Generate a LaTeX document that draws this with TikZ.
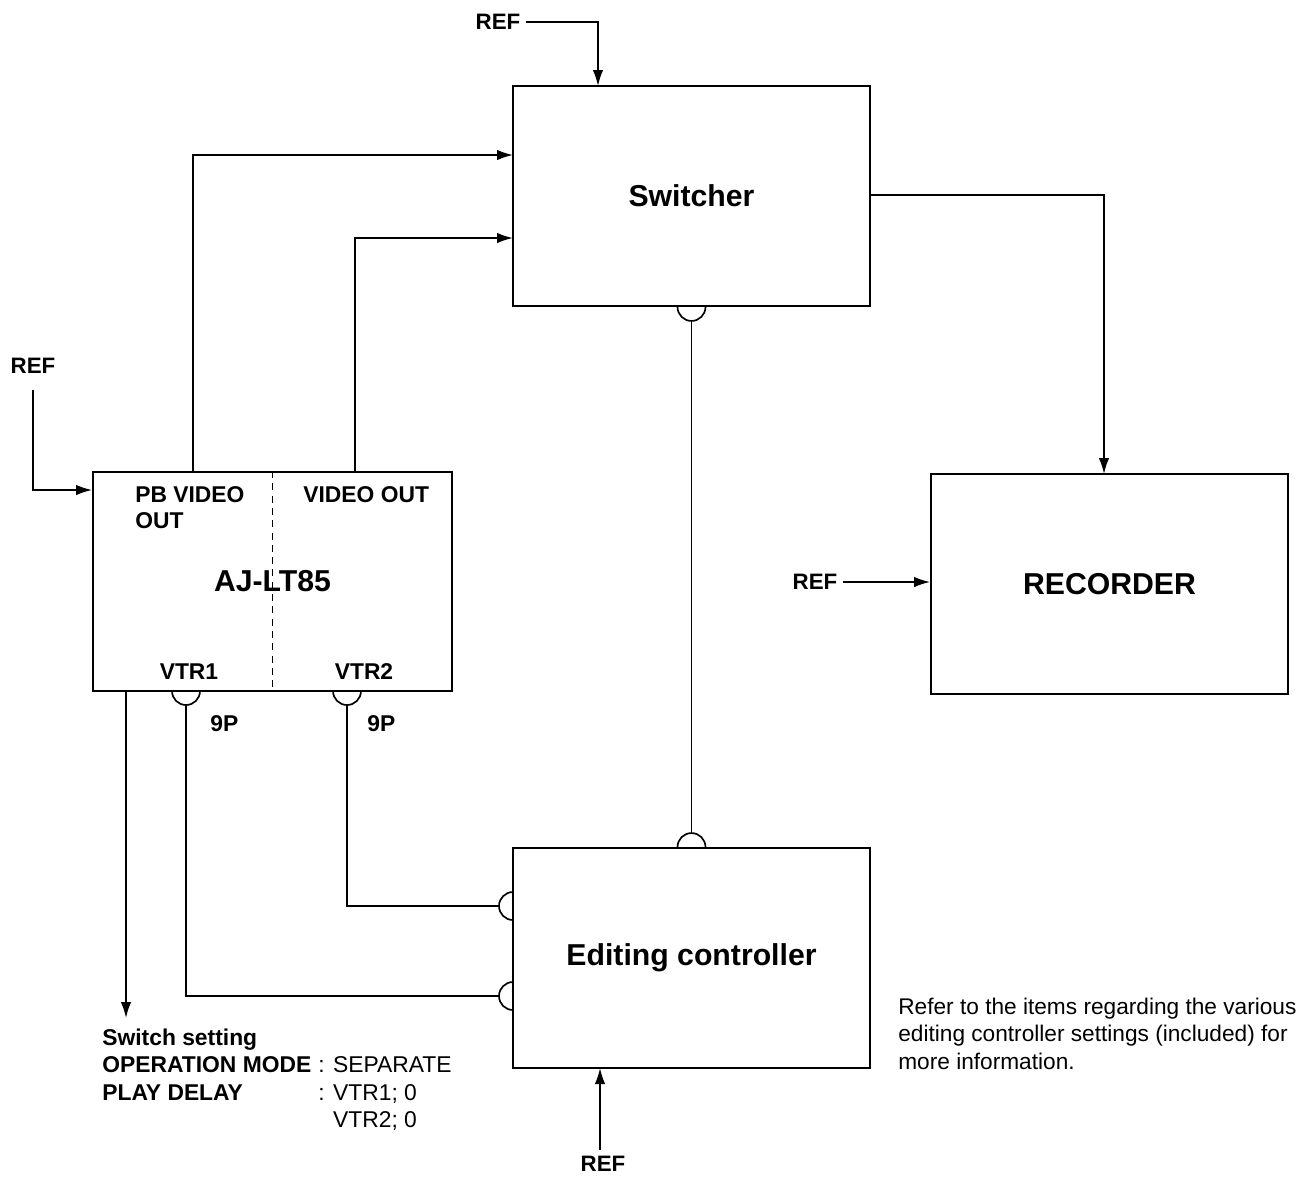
\documentclass[tikz,border=0pt]{standalone}
\usepackage{fontspec}
\setmainfont{Liberation Sans}
\usetikzlibrary{arrows.meta}

\tikzset{
  unit/.style={draw, line width=1.1pt, minimum width=7.14cm, minimum height=4.4cm, inner sep=0pt,
    font=\fontsize{17.2}{20}\selectfont\bfseries},
  lbl/.style={font=\fontsize{13}{14.7}\selectfont\bfseries, inner sep=0pt},
  reflbl/.style={font=\fontsize{12.7}{15}\selectfont\bfseries, inner sep=3pt},
  txt/.style={font=\fontsize{12.9}{15.6}\selectfont, inner sep=0pt},
  wire/.style={line width=0.95pt},
  sig/.style={wire, -{Latex[length=3.2mm,width=2.1mm]}},
}

\begin{document}
\begin{tikzpicture}[x=0.02cm,y=0.02cm]
  \useasboundingbox (0,0) rectangle (1302,-1178);

  % units
  \node[unit] (sw) at (691.5,-196) {Switcher};
  \node[unit] (ec) at (691.5,-958) {Editing controller};
  \node[unit] (rec) at (1109.5,-584) {RECORDER};
  \node[unit, minimum width=7.18cm, minimum height=4.38cm] (aj) at (272.5,-581.5) {AJ-LT85};
  \draw[line width=0.7pt, dash pattern=on 4pt off 3pt] (aj.north) -- (aj.south);

  % labels in the AJ-LT85
  \node[lbl, anchor=north west] (pbout) at (135,-484)
    {\begin{tabular}{@{}l@{}}PB VIDEO\\OUT\end{tabular}};
  \node[lbl, anchor=base west] (vout) at (303,-502) {VIDEO OUT};
  \node[lbl, anchor=base] (vtr1) at (189,-679) {VTR1};
  \node[lbl, anchor=base] (vtr2) at (364,-679) {VTR2};
  \node[lbl, anchor=base west] (pin1) at (210,-731) {9P};
  \node[lbl, anchor=base west] (pin2) at (367,-731) {9P};

  % socket points
  \coordinate (aj9a) at (186,-691);
  \coordinate (aj9b) at (347,-691);
  \coordinate (ec9a) at (513,-906);
  \coordinate (ec9b) at (513,-996);
  \coordinate (swin1) at (513,-155);
  \coordinate (swin2) at (513,-238);
  \coordinate (pbsrc) at (193,-472);
  \coordinate (vsrc) at (355,-472);
  \coordinate (swout) at (870,-195);
  \coordinate (recin) at (1104,-474);
  \coordinate (setsrc) at (126,-691);
  \coordinate (setdst) at (126,-1018);

  % sockets
  \draw[wire] ([xshift=-0.28cm]sw.south) arc[start angle=180, end angle=360, radius=0.28cm];
  \draw[wire] ([xshift=-0.28cm]ec.north) arc[start angle=180, end angle=0, radius=0.28cm];
  \draw[wire] ([xshift=-0.28cm]aj9a) arc[start angle=180, end angle=360, radius=0.28cm];
  \draw[wire] ([xshift=-0.28cm]aj9b) arc[start angle=180, end angle=360, radius=0.28cm];
  \draw[wire] ([yshift=0.28cm]ec9a) arc[start angle=90, end angle=270, radius=0.28cm];
  \draw[wire] ([yshift=0.28cm]ec9b) arc[start angle=90, end angle=270, radius=0.28cm];

  % control lines
  \draw[wire] ([yshift=-0.28cm]sw.south) -- ([yshift=0.28cm]ec.north);
  \draw[wire] ([yshift=-0.28cm]aj9b) |- ([xshift=-0.28cm]ec9a);
  \draw[wire] ([yshift=-0.28cm]aj9a) |- ([xshift=-0.28cm]ec9b);

  % video lines
  \draw[sig] (pbsrc) |- (swin1);
  \draw[sig] (vsrc) |- (swin2);
  \draw[sig] (swout) -| (recin);
  \draw[sig] (setsrc) -- (setdst);

  % REF inputs
  \node[reflbl] (refT) at (498,-22) {REF};
  \draw[sig] (refT.east) -| (598,-86);
  \node[reflbl] (refL) at (33,-366) {REF};
  \draw[sig] ([yshift=-6pt]refL.south) |- (aj.west |- 0,-490);
  \node[reflbl] (refR) at (815,-582) {REF};
  \draw[sig] (refR.east) -- (rec.west |- refR.east);
  \node[reflbl] (refB) at (603,-1164) {REF};
  \draw[sig] (600,-1150) -- (600,-1068);

  % notes
  \node[txt, anchor=north west] (sset) at (102,-1026)
    {\fontsize{13}{15.6}\selectfont\begin{tabular}{@{}l@{\hspace{4pt}}l@{}}
      \multicolumn{2}{@{}l@{}}{\textbf{Switch setting}}\\
      \textbf{OPERATION MODE} & : SEPARATE\\
      \textbf{PLAY DELAY} & : VTR1; 0\\
       & \phantom{: }VTR2; 0
    \end{tabular}};
  \node[txt, anchor=north west] (note) at (898,-995)
    {\begin{tabular}{@{}l@{}}
      Refer to the items regarding the various\\
      editing controller settings (included) for\\
      more information.
    \end{tabular}};
\end{tikzpicture}
\end{document}
